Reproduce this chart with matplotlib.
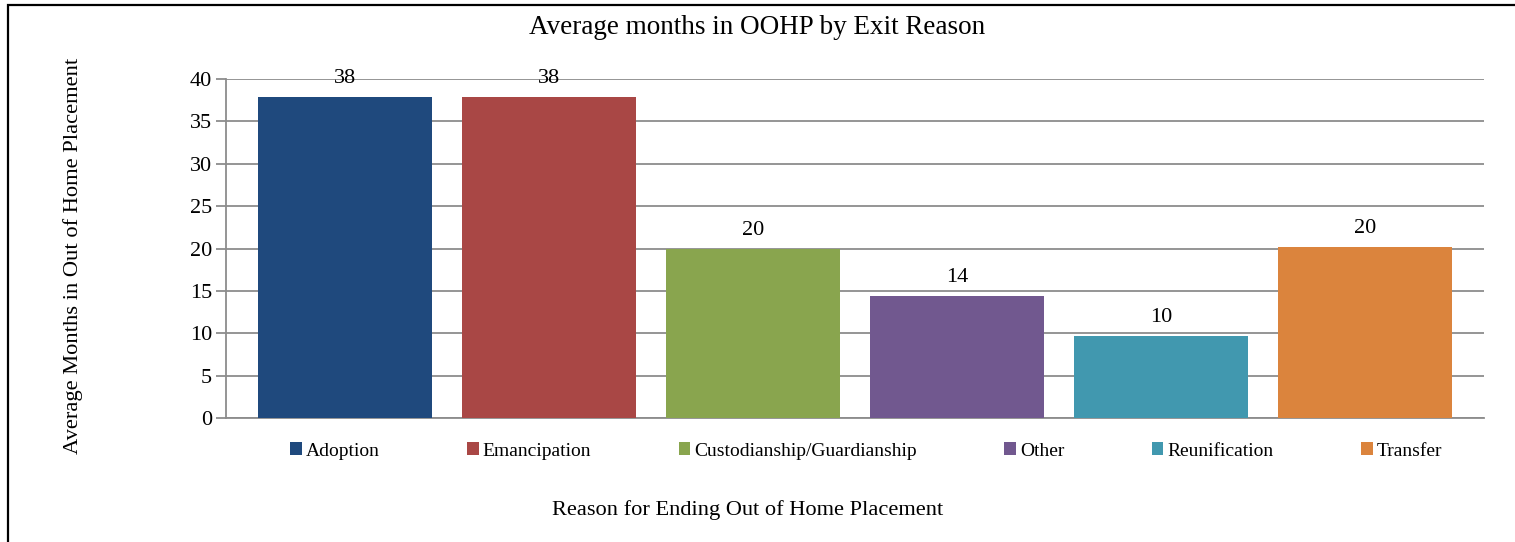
import matplotlib
matplotlib.use("Agg")
import matplotlib.pyplot as plt
from matplotlib.patches import Rectangle, Patch
import numpy as np

reasons = ["Adoption", "Emancipation", "Custodianship/Guardianship",
           "Other", "Reunification", "Transfer"]
months = [37.9, 37.9, 19.9, 14.4, 9.7, 20.2]
colors = ["#1F497D", "#A94745", "#89A54E", "#71588F", "#4198AF", "#DB843D"]

plt.rcParams["font.family"] = ["Liberation Serif", "DejaVu Serif"]

fig = plt.figure(figsize=(15.15, 5.42), dpi=100)
ax = fig.add_axes([0.1492, 0.2288, 0.8303, 0.6254])

x = np.arange(len(reasons))
bars = ax.bar(x, months, width=0.853, color=colors, zorder=3)

for b, v in zip(bars, months):
    ax.annotate("%d" % round(v), (b.get_x() + b.get_width() / 2, v),
                xytext=(0, 6.5), textcoords="offset points",
                ha="center", va="bottom", fontsize=16, zorder=4)

ax.set_xlim(-0.584, 5.584)
ax.set_ylim(0, 40)
ax.set_yticks(range(0, 41, 5))
ax.set_xticks([])
ax.yaxis.grid(True, color="#8c8c8c", linewidth=1.3, zorder=0)
ax.tick_params(axis="y", labelsize=16, color="#8c8c8c", width=1.3,
               length=7, pad=3)
for s in ["top", "right"]:
    ax.spines[s].set_visible(False)
for s in ["left", "bottom"]:
    ax.spines[s].set_color("#8c8c8c")
    ax.spines[s].set_linewidth(1.3)

fig.text(0.5, 1 - 28 / 542, "Average months in OOHP by Exit Reason",
         ha="center", va="center", fontsize=19.5)
fig.text(73 / 1515, 1 - 256 / 542, "Average Months in Out of Home Placement",
         ha="center", va="center", rotation=90, fontsize=16.2)
fig.text(748 / 1515, 1 - 510 / 542, "Reason for Ending Out of Home Placement",
         ha="center", va="center", fontsize=16.1)

handles = [Patch(facecolor=c, label=r) for c, r in zip(colors, reasons)]
fig.legend(handles=handles, loc="center", bbox_to_anchor=(866 / 1515, 1 - 451 / 542),
           ncol=6, frameon=False, fontsize=14, handlelength=0.6,
           handleheight=0.6, handletextpad=0.2, columnspacing=4.5)

fig.add_artist(Rectangle((8 / 1515, -0.1), 1.0, 1.1 - 5 / 542,
                         transform=fig.transFigure, fill=False,
                         edgecolor="black", linewidth=1.6))

fig.savefig("out.png", dpi=100)
